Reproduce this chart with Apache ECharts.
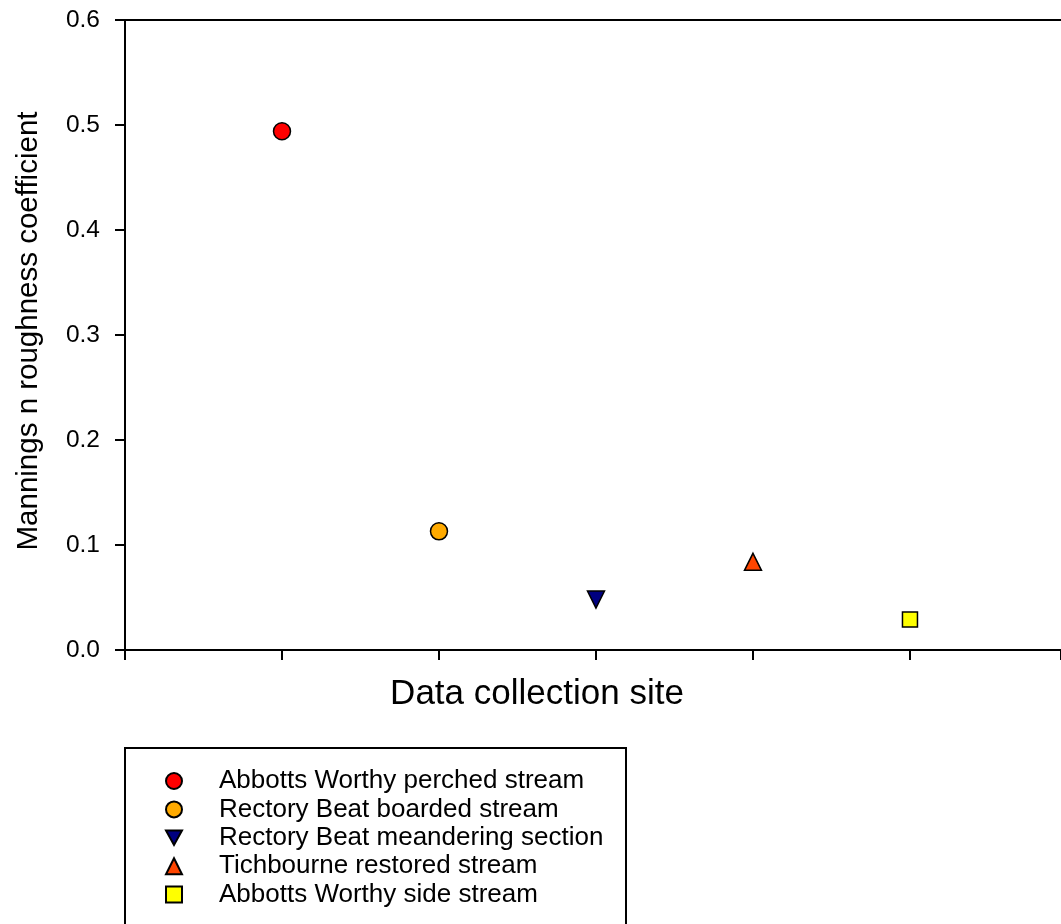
<!DOCTYPE html>
<html>
<head>
<meta charset="utf-8">
<script src="https://cdn.jsdelivr.net/npm/echarts@6/dist/echarts.min.js"></script>
<style>html,body{margin:0;padding:0;background:#fff}#c{width:1061px;height:924px}</style>
</head>
<body>
<div id="c"></div>
<script>
const sites = ['Abbotts Worthy perched stream','Rectory Beat boarded stream','Rectory Beat meandering section','Tichbourne restored stream','Abbotts Worthy side stream'];
const sitePositions = [1, 2, 3, 4, 5];
const roughness = [0.494, 0.113, 0.048, 0.084, 0.029];
const symbols = ['circle','circle','triangle','triangle','rect'];
const rotations = [0, 0, 180, 0, 0];
const legendIcons = ['circle','circle','path://M0,0 L2,0 L1,1.8 Z','triangle','rect'];
const colors = ['#FF0000','#FFAA00','#000080','#FF4500','#FFFF00'];
const sizes = [17, 17, 17, 17, 15];
const yTicks = [0, 0.1, 0.2, 0.3, 0.4, 0.5, 0.6];

const FONT = '"Liberation Sans", Arial, sans-serif';
const chart = echarts.init(document.getElementById('c'));
const series = sites.map((name, i) => ({
  name: name,
  type: 'scatter',
  data: [[sitePositions[i], roughness[i]]],
  symbol: symbols[i],
  symbolRotate: rotations[i],
  symbolSize: sizes[i],
  itemStyle: { color: colors[i], borderColor: '#000', borderWidth: 1.5, opacity: 1 },
  emphasis: { disabled: true }
}));
chart.setOption({
  animation: false,
  grid: { left: 125, top: 20, right: 0, height: 630, show: false },
  xAxis: {
    type: 'value', min: 0, max: 5.962, interval: 1,
    name: 'Data collection site', nameLocation: 'middle', nameGap: 27,
    nameTextStyle: { fontFamily: FONT, fontSize: 35, color: '#000', padding: [0, 112, 0, 0] },
    axisLine: { lineStyle: { color: '#000', width: 2 } },
    axisTick: { show: true, length: 10, lineStyle: { color: '#000', width: 2 } },
    axisLabel: { show: false },
    splitLine: { show: false }
  },
  yAxis: [{
    type: 'value', min: 0, max: 0.6, interval: 0.1,
    name: 'Mannings n roughness coefficient', nameLocation: 'middle', nameGap: 81,
    nameTextStyle: { fontFamily: FONT, fontSize: 29.5, color: '#000', padding: [0, 0, 0, 8] },
    axisLine: { show: true, lineStyle: { color: '#000', width: 2 } },
    axisTick: { show: true, length: 10, lineStyle: { color: '#000', width: 2 } },
    axisLabel: { margin: 25, fontFamily: FONT, fontSize: 24.5, color: '#000', padding: [5, 0, 0, 0],
      formatter: v => { const t = yTicks.find(x => Math.abs(x - v) < 1e-9); return (t !== undefined ? t : v).toFixed(1); } },
    splitLine: { show: false }
  }],
  graphic: [
    { type: 'line', shape: { x1: 125, y1: 20, x2: 1061, y2: 20 }, style: { stroke: '#000', lineWidth: 2 } },
    { type: 'rect', shape: { x: 125, y: 748, width: 501, height: 200 }, style: { fill: 'none', stroke: '#000', lineWidth: 2 } }
  ],
  legend: {
    orient: 'vertical', left: 165, top: 768, padding: 0,
    itemWidth: 16, itemHeight: 16, itemGap: 2.4,
    textStyle: { fontFamily: FONT, fontSize: 26, color: '#000', lineHeight: 25, padding: [0, 0, 0, 32] },
    data: sites.map((n, i) => ({ name: n, icon: legendIcons[i] })),
    selectedMode: false
  },
  series: series
});
</script>
</body>
</html>
